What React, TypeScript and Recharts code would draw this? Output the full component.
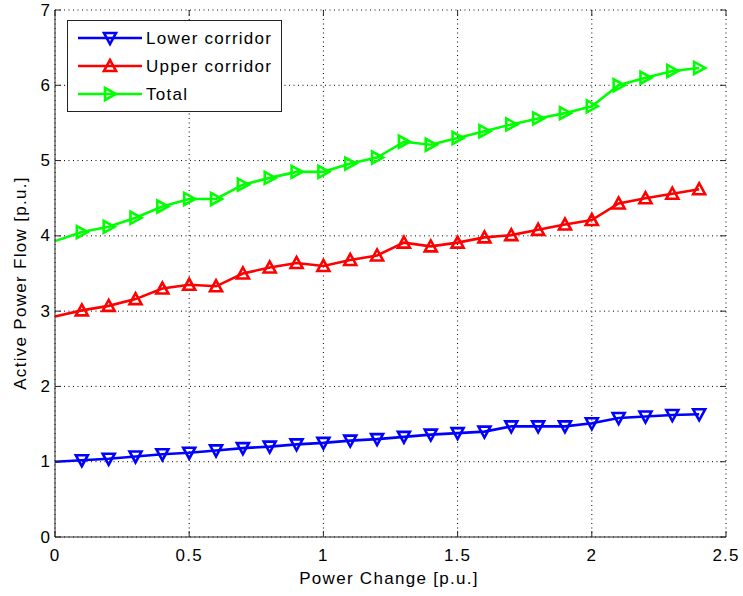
import React from "react";
import { CartesianGrid, Line, LineChart, XAxis, YAxis } from "recharts";

const powerChange = [0, 0.1, 0.2, 0.3, 0.4, 0.5, 0.6, 0.7, 0.8, 0.9, 1.0, 1.1, 1.2, 1.3, 1.4, 1.5, 1.6, 1.7, 1.8, 1.9, 2.0, 2.1, 2.2, 2.3, 2.4];
const lowerCorridor = [1.0, 1.02, 1.04, 1.07, 1.1, 1.12, 1.15, 1.18, 1.2, 1.23, 1.25, 1.28, 1.3, 1.33, 1.36, 1.38, 1.4, 1.47, 1.47, 1.47, 1.51, 1.58, 1.6, 1.62, 1.63];
const upperCorridor = [2.93, 3.01, 3.07, 3.16, 3.3, 3.35, 3.33, 3.5, 3.58, 3.64, 3.6, 3.68, 3.74, 3.91, 3.86, 3.91, 3.98, 4.01, 4.08, 4.15, 4.21, 4.43, 4.5, 4.56, 4.62];
const total = [3.93, 4.05, 4.12, 4.24, 4.39, 4.49, 4.49, 4.68, 4.77, 4.85, 4.85, 4.96, 5.04, 5.25, 5.21, 5.3, 5.39, 5.48, 5.56, 5.63, 5.72, 6.0, 6.1, 6.19, 6.23];
const xTicks = [0, 0.5, 1, 1.5, 2, 2.5];
const yTicks = [0, 1, 2, 3, 4, 5, 6, 7];

const data = powerChange.map((x, i) => ({
  x,
  lower: lowerCorridor[i],
  upper: upperCorridor[i],
  total: total[i],
}));

const FONT = "'Liberation Sans', Arial, sans-serif";
const AXIS = "#262626";
const TICK_LEN = 6;
const LINE_W = 2.6;

type Shape = "down" | "up" | "right";

function trianglePath(shape: Shape, cx: number, cy: number) {
  const r = 6;
  if (shape === "down") return `M${cx - r},${cy - r + 1} L${cx + r},${cy - r + 1} L${cx},${cy + r} Z`;
  if (shape === "up") return `M${cx - r},${cy + r - 1} L${cx + r},${cy + r - 1} L${cx},${cy - r} Z`;
  return `M${cx - r + 1},${cy - r} L${cx - r + 1},${cy + r} L${cx + r},${cy} Z`;
}

const makeDot = (shape: Shape, color: string) => (props: any) => {
  const { cx, cy, index } = props;
  if (index === 0 || cx == null || cy == null) return <g key={`d-${index}`} />;
  return (
    <path key={`d-${index}`} d={trianglePath(shape, cx, cy)} fill="none" stroke={color} strokeWidth={LINE_W} />
  );
};

const BottomTick = (props: any) => {
  const { x, y, payload } = props;
  return (
    <g>
      <line x1={x} y1={y} x2={x} y2={y - TICK_LEN} stroke={AXIS} />
      <line x1={x} y1={10} x2={x} y2={10 + TICK_LEN} stroke={AXIS} />
      <text x={x} y={y + 18} textAnchor="middle" dominantBaseline="central" fontFamily={FONT} fontSize={17} letterSpacing={1.2} fill="#000">
        {payload.value}
      </text>
    </g>
  );
};

const LeftTick = (props: any) => {
  const { x, y, payload } = props;
  return (
    <g>
      <line x1={x} y1={y} x2={x + TICK_LEN} y2={y} stroke={AXIS} />
      <line x1={726} y1={y} x2={726 - TICK_LEN} y2={y} stroke={AXIS} />
      <text x={x - 5} y={y} textAnchor="end" dominantBaseline="central" fontFamily={FONT} fontSize={17} fill="#000">
        {payload.value}
      </text>
    </g>
  );
};

const series = [
  { key: "lower", name: "Lower corridor", color: "#0000ff", shape: "down" as Shape },
  { key: "upper", name: "Upper corridor", color: "#ff0000", shape: "up" as Shape },
  { key: "total", name: "Total", color: "#00ff00", shape: "right" as Shape },
];

const LegendBox = () => (
  <div
    style={{
      position: "absolute",
      left: 67,
      top: 20,
      width: 215,
      height: 92,
      border: "1px solid #222",
      background: "#fff",
      boxSizing: "border-box",
    }}
  >
    <svg width={213} height={90} style={{ position: "absolute", left: 0, top: 0 }}>
      {series.map((s, i) => {
        const cy = 17 + i * 28;
        return (
          <g key={s.key}>
            <line x1={10} y1={cy} x2={74} y2={cy} stroke={s.color} strokeWidth={LINE_W} />
            <path d={trianglePath(s.shape, 42, cy)} fill="none" stroke={s.color} strokeWidth={LINE_W} />
            <text x={78} y={cy} dominantBaseline="central" fontFamily={FONT} fontSize={17} letterSpacing={1.25} fill="#000">
              {s.name}
            </text>
          </g>
        );
      })}
    </svg>
  </div>
);

const labelStyle: React.CSSProperties = {
  position: "absolute",
  whiteSpace: "nowrap",
  fontFamily: FONT,
  fontSize: 17,
  letterSpacing: 1.3,
  color: "#000",
  lineHeight: 1,
};

export default function App() {
  return (
    <div style={{ position: "absolute", left: 0, top: 0, width: 743, height: 596, background: "#fff" }}>
      <LineChart width={743} height={596} data={data} margin={{ top: 10, right: 17, bottom: 29, left: 10 }}>
        <CartesianGrid stroke="#000" strokeDasharray="1 3.5" horizontalValues={yTicks} verticalValues={xTicks} />
        <XAxis
          dataKey="x"
          type="number"
          domain={[0, 2.5]}
          ticks={xTicks}
          height={30}
          tickSize={0}
          tickMargin={0}
          tickLine={false}
          stroke={AXIS}
          tick={<BottomTick />}
        />
        <XAxis xAxisId="top" orientation="top" type="number" domain={[0, 2.5]} ticks={xTicks} height={0} tick={false} tickLine={false} stroke={AXIS} />
        <YAxis
          type="number"
          domain={[0, 7]}
          ticks={yTicks}
          width={45}
          tickSize={0}
          tickMargin={0}
          tickLine={false}
          stroke={AXIS}
          tick={<LeftTick />}
        />
        <YAxis yAxisId="right" orientation="right" type="number" domain={[0, 7]} ticks={yTicks} width={0} tick={false} tickLine={false} stroke={AXIS} />
        {series.map((s) => (
          <Line
            key={s.key}
            dataKey={s.key}
            name={s.name}
            stroke={s.color}
            strokeWidth={LINE_W}
            dot={makeDot(s.shape, s.color)}
            activeDot={false}
            isAnimationActive={false}
            type="linear"
          />
        ))}
      </LineChart>
      <LegendBox />
      <div style={{ ...labelStyle, left: 389, top: 578, transform: "translate(-50%, -50%)" }}>
        Power Change [p.u.]
      </div>
      <div style={{ ...labelStyle, left: 20, top: 283, transform: "translate(-50%, -50%) rotate(-90deg)" }}>
        Active Power Flow [p.u.]
      </div>
    </div>
  );
}
